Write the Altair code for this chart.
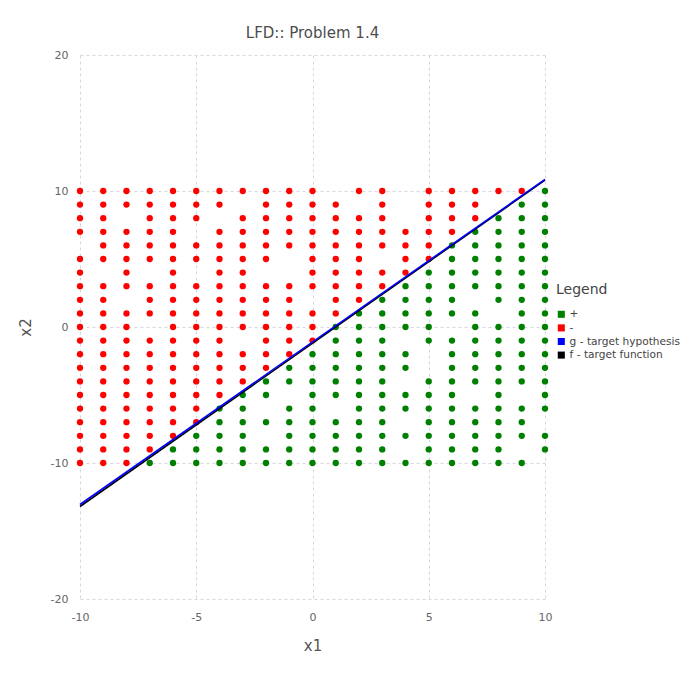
import altair as alt
import pandas as pd

# rows of the grid (x2 values), top to bottom
x2_rows = [10, 9, 8, 7, 6, 5, 4, 3, 2, 1, 0, -1, -2, -3, -4, -5, -6, -7, -8, -9, -10]

# x1 values of "-" (red) points in each row
neg_x1 = [
    [-10, -9, -8, -7, -6, -5, -4, -3, -2, -1, 0, 2, 3, 5, 6, 7, 8, 9],
    [-10, -9, -8, -7, -6, -5, -4, -2, -1, 0, 1, 3, 5, 6, 7],
    [-10, -9, -7, -6, -5, -3, -2, -1, 0, 1, 2, 3, 5, 6, 7],
    [-10, -9, -8, -7, -6, -4, -3, -2, -1, 0, 1, 2, 3, 4, 5, 6],
    [-9, -8, -7, -6, -5, -4, -3, -2, -1, 0, 1, 2, 3, 4, 5],
    [-10, -9, -8, -7, -6, -5, -4, -3, -2, 0, 1, 2, 4, 5],
    [-10, -8, -6, -4, -3, 0, 1, 2, 3, 4],
    [-10, -9, -8, -7, -6, -5, -4, -3, -2, -1, 0, 1, 2, 3],
    [-10, -9, -7, -6, -5, -4, -3, -2, -1, 1, 2],
    [-10, -9, -8, -7, -6, -5, -4, -3, -2, -1, 0, 1],
    [-10, -9, -8, -6, -5, -4, -3, -2, -1, 0],
    [-10, -9, -8, -7, -6, -5, -4, -2, -1, 0],
    [-10, -9, -8, -7, -6, -5, -4, -3, -2, -1],
    [-10, -9, -8, -7, -6, -5, -4, -3, -2],
    [-10, -9, -8, -7, -6, -5, -4, -3],
    [-10, -9, -8, -7, -6, -5, -4],
    [-10, -9, -8, -7, -6, -5],
    [-10, -9, -8, -7, -6, -5],
    [-10, -9, -8, -7, -6],
    [-10, -9, -8, -7],
    [-10, -9, -8],
]

# x1 values of "+" (green) points in each row
pos_x1 = [
    [10],
    [9, 10],
    [8, 9, 10],
    [7, 8, 9, 10],
    [6, 7, 8, 9, 10],
    [6, 7, 8, 9, 10],
    [5, 6, 7, 8, 9, 10],
    [4, 5, 6, 7, 8, 9, 10],
    [3, 4, 5, 6, 8, 9, 10],
    [2, 3, 4, 5, 6, 7, 9, 10],
    [1, 2, 3, 4, 5, 7, 8, 9, 10],
    [1, 2, 3, 5, 6, 7, 8, 9, 10],
    [0, 1, 2, 3, 4, 6, 7, 8, 9, 10],
    [-1, 0, 1, 2, 3, 4, 6, 7, 8, 9, 10],
    [-2, -1, 0, 1, 2, 3, 5, 6, 7, 8, 9, 10],
    [-3, -2, 0, 1, 2, 3, 4, 5, 6, 8, 10],
    [-4, -3, -1, 0, 2, 3, 4, 5, 6, 7, 8, 9, 10],
    [-4, -3, -2, -1, 0, 1, 2, 3, 5, 6, 7, 8, 9],
    [-5, -4, -3, -1, 0, 1, 2, 3, 4, 5, 6, 7, 8, 9, 10],
    [-6, -5, -4, -3, -2, -1, 0, 1, 2, 3, 5, 6, 7, 8, 10],
    [-7, -6, -5, -4, -3, -2, -1, 0, 1, 2, 3, 4, 5, 6, 7, 8, 9],
]

# target function f and hypothesis g (end points)
f_x1 = [-10, 10]
f_x2 = [-13.2, 10.8]
g_x1 = [-10, 10]
g_x2 = [-13.05, 10.85]

labels = ["+", "-", "g - target hypothesis", "f - target function"]
colors = ["#008000", "#ff0000", "#0000ff", "#000000"]

recs = []
for y, reds, greens in zip(x2_rows, neg_x1, pos_x1):
    for x in reds:
        recs.append({"x1": x, "x2": y, "label": "-"})
    for x in greens:
        recs.append({"x1": x, "x2": y, "label": "+"})
pts = pd.DataFrame(recs)

f_df = pd.DataFrame({"x1": f_x1, "x2": f_x2, "label": "f - target function"})
g_df = pd.DataFrame({"x1": g_x1, "x2": g_x2, "label": "g - target hypothesis"})

FONT = "DejaVu Sans"

xenc = alt.X(
    "x1:Q",
    scale=alt.Scale(domain=[-10, 10], nice=False, zero=False),
    axis=alt.Axis(
        values=[-10, -5, 0, 5, 10],
        title="x1",
        labelPadding=12,
        titlePadding=16,
        labelFlush=False,
        labelExpr="'' + datum.value",
    ),
)
yenc = alt.Y(
    "x2:Q",
    scale=alt.Scale(domain=[-20, 20], nice=False, zero=False),
    axis=alt.Axis(
        values=[-20, -10, 0, 10, 20],
        title="x2",
        labelPadding=12,
        titlePadding=17,
        labelFlush=False,
        labelExpr="'' + datum.value",
    ),
)
cscale = alt.Scale(domain=labels, range=colors)

points = alt.Chart(pts).mark_circle(size=40, opacity=1).encode(
    x=xenc,
    y=yenc,
    color=alt.Color(
        "label:N",
        scale=cscale,
        sort=labels,
        legend=alt.Legend(
            title="Legend",
            orient="none",
            legendX=476,
            legendY=228,
            symbolType="square",
            symbolSize=50,
            symbolStrokeWidth=0,
            titleFontSize=14,
            titleFontWeight="normal",
            titleColor="#444444",
            titleFont=FONT,
            titlePadding=12,
            labelFontSize=10.6,
            labelColor="#444444",
            labelFont=FONT,
            labelOffset=3,
            labelLimit=0,
            rowPadding=2.6,
        ),
    ),
)

f_line = alt.Chart(f_df).mark_line(strokeWidth=1.6).encode(
    x="x1:Q", y="x2:Q", color=alt.Color("label:N", scale=cscale, legend=None)
)
g_line = alt.Chart(g_df).mark_line(strokeWidth=1.6).encode(
    x="x1:Q", y="x2:Q", color=alt.Color("label:N", scale=cscale, legend=None)
)

chart = (
    alt.layer(points, f_line, g_line)
    .properties(
        width=465,
        height=544,
        title=alt.TitleParams(
            "LFD:: Problem 1.4",
            fontSize=15,
            fontWeight="normal",
            color="#4d4d4d",
            font=FONT,
            anchor="middle",
            offset=8,
        ),
        autosize=alt.AutoSizeParams(type="none"),
        padding={"left": 80, "top": 55, "right": 135, "bottom": 81},
    )
    .configure_view(stroke=None)
    .configure_axis(
        grid=True,
        gridColor="#d6d6e0",
        gridDash=[3, 3],
        gridWidth=1,
        ticks=False,
        domain=False,
        labelFont=FONT,
        labelFontSize=11,
        labelColor="#666666",
        titleFont=FONT,
        titleFontSize=15,
        titleFontWeight="normal",
        titleColor="#555555",
    )
)

chart.save("out.html", embed_options={"renderer": "svg", "actions": False})
